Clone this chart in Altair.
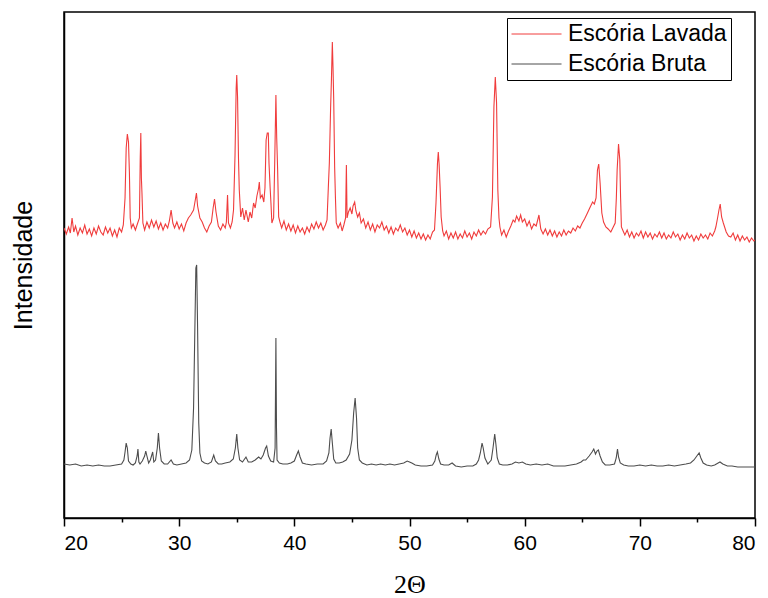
import altair as alt
import pandas as pd

series_names = ["Escória Lavada", "Escória Bruta"]
series_colors = ["#f03c3c", "#4d4d4d"]
x_tick_values = [20, 25, 30, 35, 40, 45, 50, 55, 60, 65, 70, 75, 80]

# (2θ, intensity), offset pattern on top
red_scan = [
    (20.0, 290), (20.2, 284), (20.4, 291), (20.55, 285), (20.7, 300), (20.85, 286),
    (21.0, 292), (21.2, 283), (21.4, 290), (21.6, 285), (21.8, 293), (22.0, 284),
    (22.2, 289), (22.4, 282), (22.6, 290), (22.8, 284), (23.0, 292), (23.2, 286),
    (23.4, 283), (23.6, 291), (23.8, 285), (24.0, 290), (24.2, 282), (24.4, 288),
    (24.6, 281), (24.8, 290), (25.0, 286), (25.15, 293), (25.3, 320), (25.4, 370),
    (25.5, 384), (25.6, 376), (25.68, 345), (25.75, 300), (25.85, 290), (26.0, 294),
    (26.2, 288), (26.4, 295), (26.55, 300), (26.62, 360), (26.67, 385), (26.72, 340),
    (26.77, 325), (26.85, 295), (27.0, 288), (27.2, 296), (27.4, 290), (27.6, 298),
    (27.8, 291), (28.0, 297), (28.2, 289), (28.4, 295), (28.6, 288), (28.8, 294),
    (29.0, 290), (29.15, 297), (29.3, 308), (29.45, 295), (29.6, 290), (29.8, 296),
    (30.0, 289), (30.2, 294), (30.4, 287), (30.6, 295), (30.8, 300), (31.0, 303),
    (31.25, 308), (31.4, 318), (31.5, 325), (31.6, 312), (31.8, 300), (32.0, 296),
    (32.2, 290), (32.4, 286), (32.6, 292), (32.8, 296), (32.95, 310), (33.07, 319),
    (33.2, 306), (33.4, 292), (33.6, 288), (33.8, 294), (34.0, 290), (34.1, 296),
    (34.2, 323), (34.28, 295), (34.45, 290), (34.6, 296), (34.72, 308), (34.85, 363),
    (34.95, 430), (35.0, 443), (35.07, 421), (35.15, 360), (35.22, 328), (35.35, 301),
    (35.5, 310), (35.65, 298), (35.8, 308), (36.0, 296), (36.15, 306), (36.3, 300),
    (36.46, 315), (36.6, 310), (36.75, 322), (36.9, 330), (36.96, 336), (37.05, 320),
    (37.2, 323), (37.35, 316), (37.45, 330), (37.55, 378), (37.65, 385), (37.74, 385),
    (37.8, 355), (37.9, 330), (37.97, 315), (38.05, 295), (38.2, 300), (38.3, 358),
    (38.4, 423), (38.47, 380), (38.55, 348), (38.64, 301), (38.75, 296), (38.9, 290),
    (39.1, 297), (39.3, 288), (39.5, 294), (39.7, 287), (39.9, 293), (40.1, 285),
    (40.3, 292), (40.5, 286), (40.7, 290), (40.9, 284), (41.1, 291), (41.3, 286),
    (41.5, 294), (41.7, 289), (41.9, 296), (42.1, 290), (42.3, 295), (42.5, 288),
    (42.7, 293), (42.84, 298), (42.95, 330), (43.04, 355), (43.15, 410), (43.22, 438),
    (43.3, 476), (43.36, 450), (43.42, 418), (43.5, 351), (43.57, 320), (43.64, 295),
    (43.8, 290), (44.0, 295), (44.15, 287), (44.3, 293), (44.45, 300), (44.52, 353),
    (44.58, 300), (44.7, 306), (44.85, 310), (45.0, 304), (45.1, 312), (45.24, 316),
    (45.35, 307), (45.5, 301), (45.65, 305), (45.8, 295), (46.0, 299), (46.2, 290),
    (46.4, 296), (46.6, 288), (46.8, 294), (47.0, 286), (47.2, 293), (47.4, 290),
    (47.6, 296), (47.8, 288), (48.0, 292), (48.2, 285), (48.4, 291), (48.6, 284),
    (48.8, 290), (49.0, 287), (49.2, 293), (49.4, 286), (49.6, 290), (49.8, 283),
    (50.0, 288), (50.2, 281), (50.4, 287), (50.6, 280), (50.8, 285), (51.0, 279),
    (51.2, 284), (51.4, 278), (51.6, 283), (51.8, 279), (52.0, 286), (52.17, 288),
    (52.3, 315), (52.43, 355), (52.5, 366), (52.57, 354), (52.66, 330), (52.75, 301),
    (52.88, 287), (53.0, 282), (53.2, 287), (53.4, 279), (53.6, 285), (53.8, 280),
    (54.0, 286), (54.2, 279), (54.4, 284), (54.6, 280), (54.8, 287), (55.0, 281),
    (55.2, 285), (55.4, 279), (55.6, 286), (55.8, 282), (56.0, 288), (56.2, 283),
    (56.4, 287), (56.6, 284), (56.8, 289), (57.04, 291), (57.2, 321), (57.33, 411),
    (57.45, 441), (57.56, 415), (57.67, 328), (57.77, 300), (57.85, 291), (58.0, 283),
    (58.2, 288), (58.4, 281), (58.6, 287), (58.8, 292), (59.0, 298), (59.15, 296),
    (59.3, 302), (59.5, 297), (59.65, 303), (59.8, 296), (60.0, 299), (60.2, 292),
    (60.4, 297), (60.6, 289), (60.8, 294), (61.0, 292), (61.24, 303), (61.4, 289),
    (61.6, 284), (61.8, 289), (62.0, 283), (62.2, 288), (62.4, 282), (62.6, 287),
    (62.8, 281), (63.0, 286), (63.2, 282), (63.4, 288), (63.6, 283), (63.8, 287),
    (64.0, 285), (64.2, 290), (64.4, 287), (64.6, 292), (64.8, 290), (65.0, 295),
    (65.2, 299), (65.45, 305), (65.65, 310), (65.9, 316), (66.05, 314), (66.2, 320),
    (66.32, 348), (66.43, 354), (66.55, 335), (66.7, 305), (66.85, 296), (67.05, 291),
    (67.25, 289), (67.48, 286), (67.65, 290), (67.86, 295), (67.96, 320), (68.03, 348),
    (68.15, 374), (68.26, 358), (68.33, 320), (68.4, 291), (68.55, 287), (68.7, 283),
    (68.9, 288), (69.1, 281), (69.3, 286), (69.5, 280), (69.7, 285), (69.9, 282),
    (70.1, 287), (70.3, 280), (70.5, 286), (70.7, 281), (70.9, 285), (71.1, 279),
    (71.3, 284), (71.5, 281), (71.7, 286), (71.9, 280), (72.1, 285), (72.3, 279),
    (72.5, 283), (72.7, 280), (72.9, 286), (73.1, 281), (73.3, 284), (73.5, 278),
    (73.7, 283), (73.9, 279), (74.1, 285), (74.3, 280), (74.5, 283), (74.7, 277),
    (74.9, 282), (75.1, 278), (75.3, 284), (75.5, 280), (75.7, 283), (75.9, 279),
    (76.1, 285), (76.3, 282), (76.5, 287), (76.6, 291), (76.75, 300), (76.87, 308),
    (76.98, 314), (77.1, 301), (77.25, 295), (77.5, 286), (77.7, 282), (77.9, 281),
    (78.1, 285), (78.3, 278), (78.5, 283), (78.7, 277), (78.9, 282), (79.1, 278),
    (79.3, 281), (79.5, 276), (79.7, 280), (79.9, 277), (80.0, 278),
]

gray_scan = [
    (20.0, 54), (20.5, 53), (21.0, 54), (21.5, 52), (22.0, 53), (22.5, 52),
    (23.0, 53), (23.5, 52), (24.0, 52), (24.5, 53), (25.0, 54), (25.2, 58),
    (25.3, 66), (25.4, 75), (25.5, 70), (25.6, 57), (25.8, 54), (26.0, 53),
    (26.2, 55), (26.35, 62), (26.42, 69), (26.5, 56), (26.6, 54), (26.8, 57),
    (27.0, 62), (27.1, 67), (27.2, 62), (27.35, 55), (27.5, 58), (27.65, 64),
    (27.7, 66), (27.8, 56), (27.95, 58), (28.1, 70), (28.2, 85), (28.3, 70),
    (28.45, 57), (28.7, 54), (29.0, 54), (29.3, 58), (29.5, 54), (29.8, 53),
    (30.2, 54), (30.6, 55), (30.9, 58), (31.1, 68), (31.25, 110), (31.35, 180),
    (31.45, 250), (31.52, 253), (31.6, 190), (31.7, 95), (31.8, 65), (31.95, 57),
    (32.2, 55), (32.5, 54), (32.8, 56), (33.0, 63), (33.15, 57), (33.4, 54),
    (33.7, 54), (34.0, 55), (34.4, 56), (34.7, 59), (34.88, 70), (35.0, 84),
    (35.1, 70), (35.25, 58), (35.5, 56), (35.8, 61), (36.0, 56), (36.3, 56),
    (36.6, 58), (36.9, 61), (37.1, 59), (37.3, 63), (37.5, 70), (37.6, 72),
    (37.75, 62), (37.95, 57), (38.2, 56), (38.33, 70), (38.4, 180), (38.45, 90),
    (38.5, 58), (38.7, 55), (39.0, 54), (39.4, 54), (39.7, 55), (40.0, 57),
    (40.2, 63), (40.35, 67), (40.5, 61), (40.7, 55), (41.0, 54), (41.5, 53),
    (42.0, 54), (42.5, 54), (42.8, 57), (43.0, 65), (43.1, 80), (43.2, 89),
    (43.3, 75), (43.42, 59), (43.6, 55), (43.9, 55), (44.2, 56), (44.5, 58),
    (44.8, 64), (45.0, 78), (45.15, 105), (45.28, 120), (45.4, 100), (45.5, 70),
    (45.65, 58), (45.9, 55), (46.3, 53), (46.7, 54), (47.1, 53), (47.5, 54),
    (47.9, 53), (48.3, 54), (48.7, 53), (49.1, 54), (49.5, 55), (49.8, 57),
    (50.0, 56), (50.2, 55), (50.5, 53), (51.0, 52), (51.5, 52), (52.0, 53),
    (52.2, 57), (52.32, 63), (52.42, 66), (52.55, 59), (52.7, 54), (53.0, 53),
    (53.4, 53), (53.7, 55), (54.0, 52), (54.5, 51), (55.0, 52), (55.5, 52),
    (55.8, 54), (56.0, 58), (56.15, 65), (56.3, 75), (56.4, 70), (56.55, 60),
    (56.8, 54), (57.1, 58), (57.25, 70), (57.4, 84), (57.5, 74), (57.62, 60),
    (57.8, 54), (58.1, 53), (58.5, 53), (58.9, 54), (59.2, 56), (59.5, 55),
    (59.8, 56), (60.1, 54), (60.5, 53), (61.0, 54), (61.5, 53), (62.0, 54),
    (62.5, 52), (63.0, 52), (63.5, 52), (64.0, 53), (64.5, 54), (64.9, 56),
    (65.1, 58), (65.3, 58), (65.6, 62), (65.85, 66), (66.0, 69), (66.15, 64),
    (66.28, 67), (66.4, 68), (66.55, 62), (66.75, 56), (67.0, 53), (67.4, 53),
    (67.8, 54), (67.95, 60), (68.06, 69), (68.15, 61), (68.3, 55), (68.6, 53),
    (69.0, 52), (69.5, 52), (70.0, 53), (70.5, 52), (71.0, 53), (71.5, 52),
    (72.0, 52), (72.5, 53), (73.0, 52), (73.5, 53), (74.0, 54), (74.4, 55),
    (74.7, 58), (74.95, 62), (75.15, 65), (75.3, 60), (75.5, 55), (75.8, 53),
    (76.2, 52), (76.5, 53), (76.8, 55), (76.96, 56), (77.2, 54), (77.6, 52),
    (78.0, 52), (78.5, 51), (79.0, 51), (79.5, 51), (80.0, 51),
]

rows = []
for name, scan in zip(series_names, [red_scan, gray_scan]):
    for tt, inten in scan:
        rows.append({"two_theta": tt, "intensity": inten, "series": name})
df = pd.DataFrame(rows)

chart = alt.Chart(df).mark_line(strokeWidth=1.1, clip=True).encode(
    x=alt.X(
        "two_theta:Q",
        scale=alt.Scale(domain=[20, 80], nice=False, zero=False),
        axis=alt.Axis(
            values=x_tick_values,
            title="2Θ",
            labelExpr="datum.value % 10 === 0 ? datum.label : ''",
            tickSize={"condition": {"test": "datum.value % 10 === 0", "value": 8}, "value": 4},
            grid=False,
            labelFontSize=21,
            labelFont="Liberation Sans",
            labelColor="black",
            labelPadding=6,
            tickColor="black",
            tickWidth=1.5,
            domainColor="black",
            domainWidth=1.5,
            titleFont="Liberation Serif",
            titleFontSize=26,
            titleFontWeight="normal",
            titleColor="black",
            titlePadding=18,
        ),
    ),
    y=alt.Y(
        "intensity:Q",
        scale=alt.Scale(domain=[0, 506], nice=False, zero=False),
        axis=alt.Axis(
            title="Intensidade",
            labels=False,
            ticks=False,
            grid=False,
            domainColor="black",
            domainWidth=1.5,
            titleFont="Liberation Sans",
            titleFontSize=25,
            titleFontWeight="normal",
            titleColor="black",
            titlePadding=28,
        ),
    ),
    color=alt.Color(
        "series:N",
        scale=alt.Scale(domain=series_names, range=series_colors),
        legend=alt.Legend(
            title=None,
            orient="none",
            legendX=443,
            legendY=6,
            symbolType="M-1,0H3.35",
            symbolSize=529,
            symbolStrokeWidth=1,
            labelFont="Liberation Sans",
            labelFontSize=23,
            labelColor="black",
            labelOffset=33,
            strokeColor="black",
            padding=4,
            rowPadding=6,
        ),
    ),
).properties(
    width=691,
    height=506,
    autosize=alt.AutoSizeParams(type="none"),
    padding={"left": 64, "top": 12, "right": 13, "bottom": 80},
).configure_view(stroke="black", strokeWidth=1.5)

chart.save("out.html", embed_options={"renderer": "svg", "actions": False})
